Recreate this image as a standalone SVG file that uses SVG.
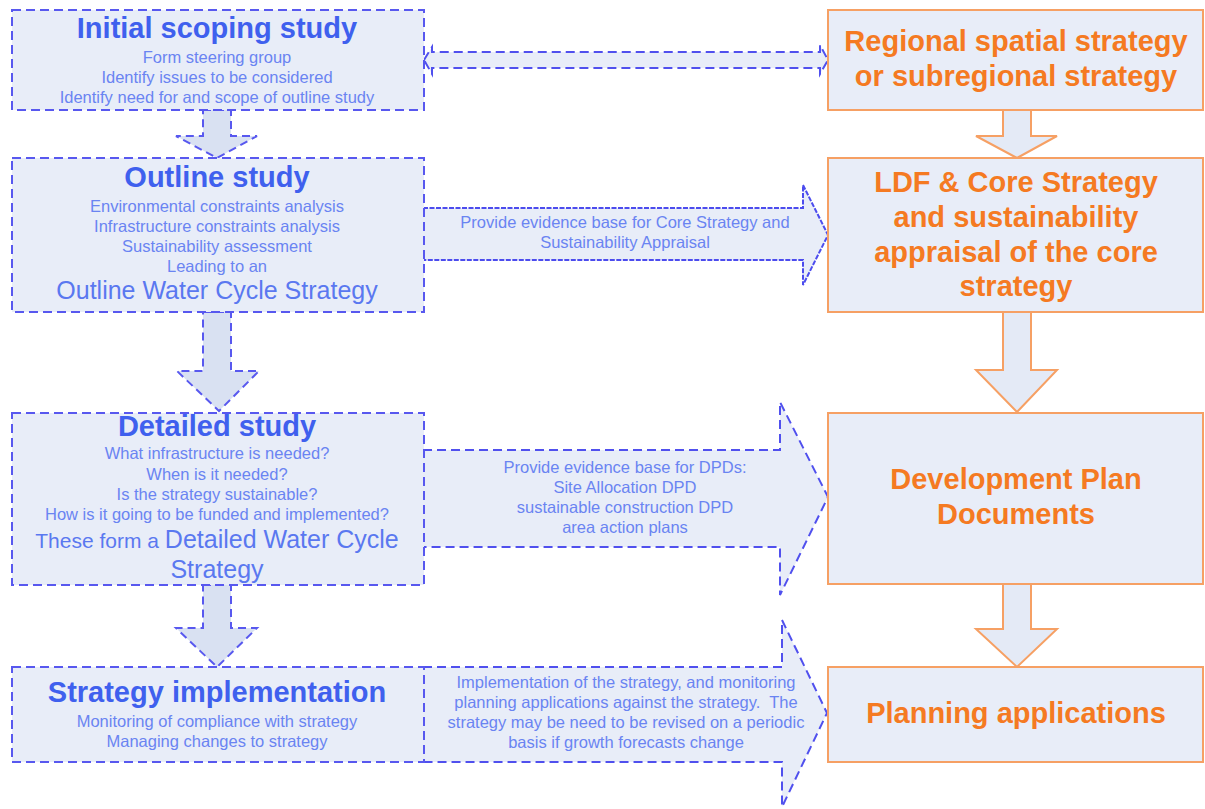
<svg xmlns="http://www.w3.org/2000/svg" width="1205" height="809" viewBox="0 0 1205 809">
<style>
.lb{fill:#e8edf8;stroke:#5858ef;stroke-width:2;stroke-dasharray:9 5}
.rb{fill:#e8edf8;stroke:#f6a064;stroke-width:2}
.la{fill:#d9e1f2;stroke:#5858ef;stroke-width:2;stroke-dasharray:8 5}
.ra{fill:#e4eaf6;stroke:#f6a064;stroke-width:2}
.ha{fill:#e8edf8;stroke:#5050ee;stroke-width:2;stroke-dasharray:9 5}
.hs{fill:#e8edf8;stroke:#4c4cee;stroke-width:2;stroke-dasharray:5 1.5}
text{font-family:"Liberation Sans",Arial,sans-serif;text-anchor:middle}
.t{font-size:29px;font-weight:bold;fill:#3f60ee}
.s{font-size:16.5px;fill:#6a84f2}
.m{font-size:25px;fill:#5a78f0}
.o{font-size:29px;font-weight:bold;fill:#f57a22}
</style>
<rect width="1205" height="809" fill="#ffffff"/>
<g id="connectors">
<polygon class="la" points="203,110 231,110 231,136 257,136 217,158 176,136 203,136"/>
<polygon class="la" points="203,312 231,312 231,371 259,371 219,411 177,371 203,371"/>
<polygon class="la" points="203,585 231,585 231,628 257,628 217,667 176,628 203,628"/>
<polygon class="ra" points="1003,110 1031,110 1031,136 1057,136 1017,158 976,136 1003,136"/>
<polygon class="ra" points="1003,312 1031,312 1031,370 1057,370 1017,412 976,370 1003,370"/>
<polygon class="ra" points="1003,584 1031,584 1031,629 1057,629 1017,667 976,629 1003,629"/>
<polygon class="ha" points="424,60 432,47 432,52 820,52 820,45 828,60 820,74 820,68 432,68 432,74"/>
<polygon class="hs" points="423,208 803,208 803,185 828,235 803,285 803,260 423,260"/>
<polygon class="ha" points="423,450 780,450 780,402 828,497 780,595 780,547 423,547"/>
<polygon class="ha" points="423,667 782,667 782,620 827,713 782,807 782,762 423,762"/>
<text class="s" x="625" y="228">Provide evidence base for Core Strategy and</text>
<text class="s" x="625" y="248">Sustainability Appraisal</text>
<text class="s" x="625" y="473">Provide evidence base for DPDs:</text>
<text class="s" x="625" y="493">Site Allocation DPD</text>
<text class="s" x="625" y="513">sustainable construction DPD</text>
<text class="s" x="625" y="533">area action plans</text>
<text class="s" x="626" y="688">Implementation of the strategy, and monitoring</text>
<text class="s" x="626" y="708" xml:space="preserve">planning applications against the strategy.  The</text>
<text class="s" x="626" y="728">strategy may be need to be revised on a periodic</text>
<text class="s" x="626" y="748">basis if growth forecasts change</text>
</g>
<g id="initial-scoping">
<rect class="lb" x="12" y="10" width="412" height="100"/>
<text class="t" x="217" y="38">Initial scoping study</text>
<text class="s" x="217" y="63">Form steering group</text>
<text class="s" x="217" y="83">Identify issues to be considered</text>
<text class="s" x="217" y="103">Identify need for and scope of outline study</text>
</g>
<g id="outline-study">
<rect class="lb" x="12" y="158" width="412" height="154"/>
<text class="t" x="217" y="187">Outline study</text>
<text class="s" x="217" y="212">Environmental constraints analysis</text>
<text class="s" x="217" y="232">Infrastructure constraints analysis</text>
<text class="s" x="217" y="252">Sustainability assessment</text>
<text class="s" x="217" y="272">Leading to an</text>
<text class="m" x="217" y="299">Outline Water Cycle Strategy</text>
</g>
<g id="detailed-study">
<rect class="lb" x="12" y="413" width="412" height="172"/>
<text class="t" x="217" y="436">Detailed study</text>
<text class="s" x="217" y="459">What infrastructure is needed?</text>
<text class="s" x="217" y="480">When is it needed?</text>
<text class="s" x="217" y="500">Is the strategy sustainable?</text>
<text class="s" x="217" y="520">How is it going to be funded and implemented?</text>
<text class="m" x="217" y="548"><tspan font-size="21px">These form a </tspan>Detailed Water Cycle</text>
<text class="m" x="217" y="578">Strategy</text>
</g>
<g id="strategy-implementation">
<rect class="lb" x="12" y="667" width="412" height="95"/>
<text class="t" x="217" y="702">Strategy implementation</text>
<text class="s" x="217" y="727">Monitoring of compliance with strategy</text>
<text class="s" x="217" y="747">Managing changes to strategy</text>
</g>
<g id="regional-strategy">
<rect class="rb" x="828" y="10" width="375" height="100"/>
<text class="o" x="1016" y="51">Regional spatial strategy</text>
<text class="o" x="1016" y="86">or subregional strategy</text>
</g>
<g id="ldf-core-strategy">
<rect class="rb" x="828" y="158" width="375" height="154"/>
<text class="o" x="1016" y="192">LDF &amp; Core Strategy</text>
<text class="o" x="1016" y="227">and sustainability</text>
<text class="o" x="1016" y="262">appraisal of the core</text>
<text class="o" x="1016" y="296">strategy</text>
</g>
<g id="development-plan-documents">
<rect class="rb" x="828" y="413" width="375" height="171"/>
<text class="o" x="1016" y="489">Development Plan</text>
<text class="o" x="1016" y="524">Documents</text>
</g>
<g id="planning-applications">
<rect class="rb" x="828" y="667" width="375" height="95"/>
<text class="o" x="1016" y="723">Planning applications</text>
</g>
</svg>
